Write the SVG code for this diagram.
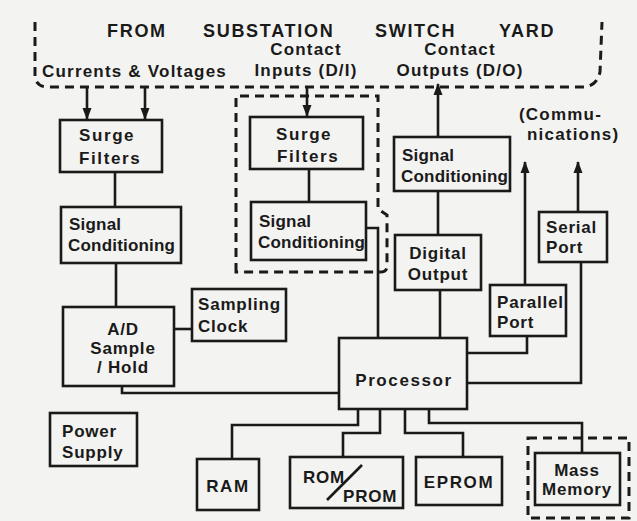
<svg xmlns="http://www.w3.org/2000/svg" width="637" height="521" viewBox="0 0 637 521">
<defs>
<style>
.bg{fill:#f3f3f1}
.box{fill:none;stroke:#1a1a1a;stroke-width:2.6}
.ln{fill:none;stroke:#1a1a1a;stroke-width:2.6}
.dash{fill:none;stroke:#1a1a1a;stroke-width:3;stroke-dasharray:9 6}
text{font-family:"Liberation Sans",Arial,sans-serif;font-weight:bold;font-size:17px;fill:#1a1a1a;letter-spacing:0.8px}
.hd{font-size:18px;letter-spacing:1.7px}
.lb{letter-spacing:1.2px}
.tight{letter-spacing:0.2px}
.wide{letter-spacing:1.6px}
.m{text-anchor:middle}
</style>
<marker id="ar" markerUnits="userSpaceOnUse" markerWidth="12" markerHeight="12" viewBox="0 0 12 12" refX="11" refY="6" orient="auto">
<path d="M0,1.5 L12,6 L0,10.5 Z" fill="#1a1a1a"/>
</marker>
</defs>
<rect class="bg" x="0" y="0" width="637" height="521"/>

<g id="yard">
<path class="dash" d="M35,22 L35,76 Q36,87 48,87 L584,87 Q597,86 600,72 L602,22"/>
<text class="hd" x="107" y="37">FROM</text>
<text class="hd" x="203" y="37">SUBSTATION</text>
<text class="hd" x="375" y="37">SWITCH</text>
<text class="hd" x="499" y="37">YARD</text>
<text class="lb" x="42" y="77">Currents &amp; Voltages</text>
<text class="m lb" x="306" y="55">Contact</text>
<text class="m lb" x="306" y="76">Inputs (D/I)</text>
<text class="m lb" x="460" y="55">Contact</text>
<text class="m lb" x="460" y="76">Outputs (D/O)</text>
<text class="lb" x="519" y="120">(Commu-</text>
<text class="lb" x="527" y="140">nications)</text>
</g>

<g id="di-group">
<path class="dash" d="M236,272 L236,96 L378,96 L378,209 L387,215 L387,266 Q387,272 380,272 Z"/>
</g>
<g id="mass-group">
<rect class="dash" x="528" y="438" width="101" height="80"/>
</g>

<g id="connectors">
<path class="ln" d="M87,87 L87,119" marker-end="url(#ar)"/>
<path class="ln" d="M145,87 L145,119" marker-end="url(#ar)"/>
<path class="ln" d="M307,87 L307,116" marker-end="url(#ar)"/>
<path class="ln" d="M115,172 L115,207"/>
<path class="ln" d="M116,263 L116,307"/>
<path class="ln" d="M174,329 L192,329"/>
<path class="ln" d="M122,386 L122,393 L340,393"/>
<path class="ln" d="M309,169 L309,202"/>
<path class="ln" d="M366,228 L378,228 L378,338"/>
<path class="ln" d="M438,137 L438,84" marker-end="url(#ar)"/>
<path class="ln" d="M438,191 L438,235"/>
<path class="ln" d="M440,290 L440,338"/>
<path class="ln" d="M467,353 L527,353 L527,336"/>
<path class="ln" d="M525,285 L525,162" marker-end="url(#ar)"/>
<path class="ln" d="M467,383 L581,383 L581,262"/>
<path class="ln" d="M578,212 L578,162" marker-end="url(#ar)"/>
<path class="ln" d="M358,409 L358,425 L232,425 L232,459"/>
<path class="ln" d="M380,409 L380,433 L343,433 L343,457"/>
<path class="ln" d="M405,409 L405,433 L463,433 L463,457"/>
<path class="ln" d="M429,409 L429,423 L582,423 L582,453"/>
</g>

<g id="surge-cv">
<rect class="box" x="60" y="120" width="102" height="52"/>
<text class="wide" x="79" y="141">Surge</text>
<text class="wide" x="79" y="164">Filters</text>
</g>
<g id="signal-cv">
<rect class="box" x="61" y="207" width="120" height="56"/>
<text class="tight" x="69" y="230">Signal</text>
<text class="tight" x="68" y="251">Conditioning</text>
</g>
<g id="ad">
<rect class="box" x="63" y="307" width="111" height="79"/>
<text class="m" x="123" y="335">A/D</text>
<text class="m" x="123" y="354">Sample</text>
<text class="m" x="123" y="373">/ Hold</text>
</g>
<g id="clock">
<rect class="box" x="192" y="289" width="94" height="52"/>
<text x="198" y="310">Sampling</text>
<text x="198" y="332">Clock</text>
</g>
<g id="power">
<rect class="box" x="50" y="413" width="87" height="53"/>
<text x="62" y="437">Power</text>
<text x="62" y="458">Supply</text>
</g>
<g id="surge-di">
<rect class="box" x="250" y="117" width="113" height="52"/>
<text class="wide" x="276" y="140">Surge</text>
<text class="wide" x="277" y="162">Filters</text>
</g>
<g id="signal-di">
<rect class="box" x="251" y="202" width="115" height="58"/>
<text class="tight" x="259" y="227">Signal</text>
<text class="tight" x="258" y="248">Conditioning</text>
</g>
<g id="signal-do">
<rect class="box" x="394" y="137" width="116" height="54"/>
<text class="tight" x="402" y="161">Signal</text>
<text class="tight" x="401" y="182">Conditioning</text>
</g>
<g id="digital-output">
<rect class="box" x="395" y="235" width="86" height="55"/>
<text class="m" x="438" y="259">Digital</text>
<text class="m" x="438" y="280">Output</text>
</g>
<g id="parallel">
<rect class="box" x="490" y="285" width="76" height="51"/>
<text x="497" y="308">Parallel</text>
<text x="497" y="328">Port</text>
</g>
<g id="serial">
<rect class="box" x="539" y="212" width="68" height="50"/>
<text x="546" y="233">Serial</text>
<text x="546" y="253">Port</text>
</g>
<g id="processor">
<rect class="box" x="339" y="338" width="128" height="71"/>
<text class="m wide" x="404" y="386">Processor</text>
</g>
<g id="ram">
<rect class="box" x="197" y="459" width="62" height="51"/>
<text class="m wide" x="228" y="492">RAM</text>
</g>
<g id="rom">
<rect class="box" x="290" y="457" width="113" height="51"/>
<text x="303" y="483">ROM</text>
<text x="343" y="502">PROM</text>
<path class="ln" d="M327,500 L362,465"/>
</g>
<g id="eprom">
<rect class="box" x="416" y="457" width="86" height="48"/>
<text class="m wide" x="459" y="488">EPROM</text>
</g>
<g id="mass">
<rect class="box" x="535" y="453" width="85" height="52"/>
<text class="m" x="577" y="476">Mass</text>
<text class="m" x="577" y="495">Memory</text>
</g>
</svg>
